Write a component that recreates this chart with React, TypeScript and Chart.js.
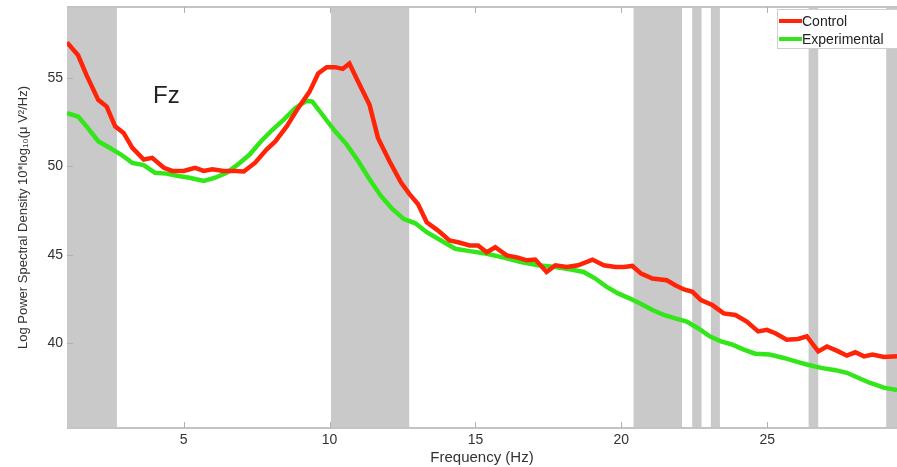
import React, { useEffect, useRef } from "react";
import { Chart, registerables } from "chart.js";

Chart.register(...registerables);

const seriesLabels = ["Control", "Experimental"];
const seriesColors = ["#ff2408", "#33e61a"];

const controlFreq = [1.0,1.38,1.67,2.07,2.36,2.65,2.94,3.24,3.63,3.92,4.32,4.61,5.0,5.39,5.69,5.98,6.37,6.77,7.06,7.45,7.84,8.14,8.53,8.92,9.31,9.61,9.9,10.19,10.45,10.68,10.98,11.37,11.66,12.05,12.45,12.74,13.03,13.33,13.72,14.11,14.41,14.8,15.09,15.39,15.68,16.07,16.46,16.76,17.05,17.44,17.74,18.13,18.52,19.01,19.4,19.8,20.09,20.38,20.68,21.07,21.56,21.85,22.15,22.44,22.73,23.12,23.51,23.91,24.3,24.69,24.99,25.28,25.67,26.06,26.36,26.75,27.05,27.44,27.73,28.02,28.32,28.61,29.0,29.45];
const controlPower = [57.0,56.27,55.15,53.75,53.37,52.25,51.88,51.04,50.38,50.47,49.91,49.73,49.73,49.91,49.73,49.82,49.73,49.73,49.7,50.2,50.94,51.4,52.25,53.28,54.2,55.24,55.6,55.6,55.5,55.8,54.78,53.47,51.6,50.29,49.07,48.42,47.86,46.83,46.36,45.8,45.7,45.52,45.52,45.14,45.42,44.96,44.83,44.68,44.72,44.02,44.4,44.3,44.4,44.72,44.4,44.3,44.3,44.36,43.93,43.65,43.55,43.27,43.03,42.9,42.43,42.15,41.68,41.59,41.22,40.66,40.75,40.56,40.19,40.23,40.38,39.53,39.81,39.53,39.29,39.48,39.25,39.35,39.22,39.25];

const expFreq = [1.0,1.38,1.67,2.07,2.46,2.85,3.24,3.63,4.02,4.41,4.81,5.2,5.69,6.08,6.47,6.86,7.26,7.65,8.04,8.43,8.82,9.21,9.41,9.8,10.19,10.59,10.98,11.37,11.76,12.15,12.55,12.94,13.33,13.82,14.31,14.8,15.39,15.97,16.56,17.15,17.74,18.32,18.71,19.11,19.5,19.89,20.28,20.68,21.07,21.46,21.85,22.24,22.63,23.03,23.42,23.81,24.2,24.59,25.08,25.57,25.97,26.36,26.85,27.34,27.73,28.12,28.51,29.0,29.45];
const expPower = [53.0,52.81,52.25,51.41,51.04,50.66,50.19,50.06,49.63,49.58,49.45,49.35,49.17,49.35,49.63,50.1,50.66,51.41,52.06,52.63,53.28,53.69,53.65,52.81,51.97,51.22,50.29,49.26,48.32,47.58,47.01,46.77,46.27,45.8,45.33,45.2,45.05,44.83,44.58,44.4,44.3,44.15,44.02,43.65,43.18,42.81,42.53,42.21,41.87,41.59,41.4,41.22,40.84,40.38,40.09,39.91,39.63,39.4,39.35,39.16,38.97,38.79,38.6,38.47,38.32,38.04,37.76,37.48,37.35];

const bandStart = [0.9, 10.05, 20.42, 22.43, 23.07, 26.42, 29.08];
const bandEnd = [2.71, 12.73, 22.08, 22.75, 23.38, 26.75, 29.6];

const xTicks = [5, 10, 15, 20, 25];
const yTicks = [40, 45, 50, 55];

const xMin = 1;
const xMax = 29.45;
const yMin = 35.2;
const yMax = 59;

const FONT = "'Liberation Sans', Arial, Helvetica, sans-serif";

function pairs(xs: number[], ys: number[]) {
  const n = Math.min(xs.length, ys.length);
  const out: { x: number; y: number }[] = [];
  for (let i = 0; i < n; i++) out.push({ x: xs[i], y: ys[i] });
  return out;
}

const bandsPlugin = {
  id: "bands",
  beforeDatasetsDraw(chart: any) {
    const { ctx, chartArea, scales } = chart;
    const xs = scales.x;
    ctx.save();
    ctx.beginPath();
    ctx.rect(chartArea.left, chartArea.top, chartArea.right - chartArea.left, chartArea.bottom - chartArea.top);
    ctx.clip();
    ctx.fillStyle = "#c9c9c9";
    for (let i = 0; i < bandStart.length; i++) {
      const a = xs.getPixelForValue(bandStart[i]);
      const b = xs.getPixelForValue(bandEnd[i]);
      ctx.fillRect(a, chartArea.top, b - a, chartArea.bottom - chartArea.top);
    }
    ctx.restore();
  },
};

const framePlugin = {
  id: "frame",
  afterDatasetsDraw(chart: any) {
    const { ctx, chartArea, scales } = chart;
    const xs = scales.x;
    const ys = scales.y;
    ctx.save();
    ctx.strokeStyle = "#c4c4c4";
    ctx.lineWidth = 2;
    ctx.beginPath();
    ctx.moveTo(chartArea.left, chartArea.top);
    ctx.lineTo(chartArea.right, chartArea.top);
    ctx.moveTo(chartArea.left, chartArea.bottom);
    ctx.lineTo(chartArea.right, chartArea.bottom);
    ctx.stroke();
    ctx.strokeStyle = "#b0b0b0";
    ctx.lineWidth = 1;
    ctx.beginPath();
    for (const t of xTicks) {
      const px = Math.round(xs.getPixelForValue(t)) + 0.5;
      ctx.moveTo(px, chartArea.bottom);
      ctx.lineTo(px, chartArea.bottom - 6);
      ctx.moveTo(px, chartArea.top);
      ctx.lineTo(px, chartArea.top + 6);
    }
    for (const t of yTicks) {
      const py = Math.round(ys.getPixelForValue(t)) + 0.5;
      ctx.moveTo(chartArea.left, py);
      ctx.lineTo(chartArea.left + 6, py);
    }
    ctx.stroke();
    ctx.restore();
  },
  afterDraw(chart: any) {
    const { ctx, chartArea, scales } = chart;
    const xs = scales.x;
    const ys = scales.y;
    ctx.save();
    // "Fz" label
    ctx.fillStyle = "#222";
    ctx.font = `24px ${FONT}`;
    ctx.textBaseline = "alphabetic";
    ctx.textAlign = "left";
    ctx.fillText("Fz", xs.getPixelForValue(3.95), ys.getPixelForValue(53.6));

    // legend box
    const lx = chartArea.right - 120;
    const ly = chartArea.top + 2;
    ctx.fillStyle = "#ffffff";
    ctx.fillRect(lx, ly, 140, 40);
    ctx.strokeStyle = "#cfcfcf";
    ctx.lineWidth = 1;
    ctx.strokeRect(lx + 0.5, ly + 0.5, 140, 39);
    ctx.font = `14px ${FONT}`;
    ctx.textBaseline = "middle";
    const rows = [ly + 12, ly + 30];
    chart.data.datasets.forEach((ds: any, i: number) => {
      ctx.strokeStyle = ds.borderColor;
      ctx.lineWidth = 4;
      ctx.beginPath();
      ctx.moveTo(lx + 2, rows[i]);
      ctx.lineTo(lx + 25, rows[i]);
      ctx.stroke();
      ctx.fillStyle = "#222";
      ctx.fillText(ds.label, lx + 25, rows[i] + 1);
    });
    ctx.restore();
  },
};

export default function App() {
  const ref = useRef<HTMLCanvasElement | null>(null);

  useEffect(() => {
    if (!ref.current) return;
    const chart = new Chart(ref.current, {
      type: "line",
      data: {
        datasets: [
          {
            label: seriesLabels[0],
            data: pairs(controlFreq, controlPower),
            borderColor: seriesColors[0],
            borderWidth: 4.5,
            pointRadius: 0,
            tension: 0,
            fill: false,
          },
          {
            label: seriesLabels[1],
            data: pairs(expFreq, expPower),
            borderColor: seriesColors[1],
            borderWidth: 4.5,
            pointRadius: 0,
            tension: 0,
            fill: false,
          },
        ],
      },
      options: {
        animation: false,
        responsive: false,
        events: [],
        layout: { padding: { top: 7, right: 0, left: 0, bottom: 0 } },
        plugins: {
          legend: { display: false },
          tooltip: { enabled: false },
        },
        scales: {
          x: {
            type: "linear",
            min: xMin,
            max: xMax,
            border: { display: false },
            grid: { display: false },
            afterFit: (s: any) => {
              s.height = 39;
            },
            afterBuildTicks: (s: any) => {
              s.ticks = xTicks.map((v) => ({ value: v }));
            },
            ticks: {
              color: "#333",
              font: { family: FONT, size: 14 },
              padding: -4,
              maxRotation: 0,
            },
            title: {
              display: true,
              text: "Frequency (Hz)",
              color: "#333",
              font: { family: FONT, size: 15 },
              padding: { top: 0, bottom: 0 },
            },
          },
          y: {
            type: "linear",
            min: yMin,
            max: yMax,
            border: { display: false },
            grid: { display: false },
            afterFit: (s: any) => {
              s.width = 67;
            },
            afterBuildTicks: (s: any) => {
              s.ticks = yTicks.map((v) => ({ value: v }));
            },
            ticks: {
              color: "#333",
              font: { family: FONT, size: 14 },
              padding: -4,
            },
            title: {
              display: true,
              text: "Log Power Spectral Density 10*log\u2081\u2080(\u03bc V\u00b2/Hz)",
              color: "#333",
              font: { family: FONT, size: 13 },
              padding: { top: 16, bottom: 0 },
            },
          },
        },
      } as any,
      plugins: [bandsPlugin, framePlugin],
    });
    return () => chart.destroy();
  }, []);

  return (
    <div style={{ position: "absolute", left: 0, top: 0, width: 897, height: 467, background: "#fff" }}>
      <canvas ref={ref} width={897} height={467} style={{ display: "block" }} />
    </div>
  );
}
